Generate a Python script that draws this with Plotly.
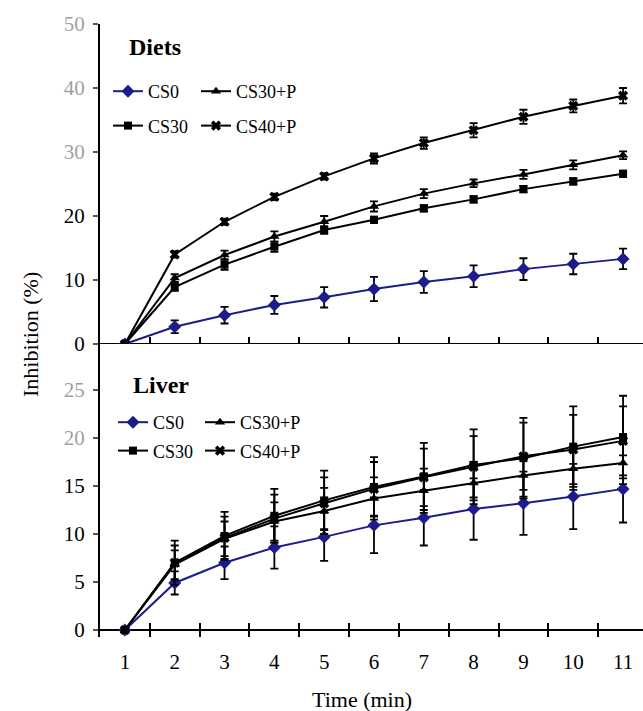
import plotly.graph_objects as go

# ---------------- data ----------------
minutes = [1, 2, 3, 4, 5, 6, 7, 8, 9, 10, 11]
tick_labels = ["1", "2", "3", "4", "5", "6", "7", "8", "9", "10", "11"]
series_names = ["CS0", "CS30", "CS30+P", "CS40+P"]

diets_cs0 = [0, 2.7, 4.5, 6.1, 7.3, 8.6, 9.7, 10.6, 11.7, 12.5, 13.3]
diets_cs0_err = [0, 1.0, 1.3, 1.4, 1.6, 1.9, 1.7, 1.7, 1.7, 1.6, 1.6]
diets_cs30 = [0, 8.9, 12.4, 15.2, 17.8, 19.4, 21.2, 22.6, 24.2, 25.4, 26.6]
diets_cs30_err = [0, 0.6, 0.8, 0.8, 0.6, 0.5, 0.5, 0.5, 0.5, 0.5, 0.5]
diets_cs30p = [0, 10.3, 13.9, 16.8, 19.1, 21.5, 23.5, 25.1, 26.5, 28.0, 29.5]
diets_cs30p_err = [0, 0.6, 0.7, 0.8, 0.9, 0.8, 0.7, 0.6, 0.7, 0.7, 0.6]
diets_cs40p = [0, 14.0, 19.1, 23.0, 26.2, 29.0, 31.4, 33.4, 35.5, 37.2, 38.8]
diets_cs40p_err = [0, 0.5, 0.5, 0.5, 0.5, 0.8, 0.9, 1.1, 1.1, 1.0, 1.2]

liver_cs0 = [0, 4.9, 7.0, 8.6, 9.7, 10.9, 11.7, 12.6, 13.2, 13.9, 14.7]
liver_cs0_err = [0, 1.2, 1.7, 2.2, 2.5, 2.9, 2.9, 3.2, 3.3, 3.4, 3.5]
liver_cs30 = [0, 7.0, 9.8, 11.9, 13.5, 14.9, 16.0, 17.2, 17.9, 19.1, 20.1]
liver_cs30_err = [0, 2.3, 2.5, 2.8, 3.1, 3.1, 3.5, 3.7, 4.2, 4.2, 4.3]
liver_cs30p = [0, 6.8, 9.5, 11.3, 12.4, 13.7, 14.5, 15.3, 16.1, 16.8, 17.4]
liver_cs30p_err = [0, 1.5, 1.8, 2.0, 2.4, 2.2, 2.3, 2.2, 2.2, 2.2, 2.2]
liver_cs40p = [0, 7.0, 9.6, 11.6, 13.2, 14.7, 15.9, 17.0, 18.1, 18.8, 19.7]
liver_cs40p_err = [0, 1.8, 2.2, 2.5, 2.7, 2.8, 3.0, 3.2, 3.5, 3.6, 3.6]

diets_ticks = [0, 10, 20, 30, 40, 50]
liver_ticks = [0, 5, 10, 15, 20, 25]
faded_diets = [30, 40, 50]
faded_liver = [20, 25]
half_ticks = [1.5, 2.5, 3.5, 4.5, 5.5, 6.5, 7.5, 8.5, 9.5, 10.5]

diets_vals = [diets_cs0, diets_cs30, diets_cs30p, diets_cs40p]
diets_errs = [diets_cs0_err, diets_cs30_err, diets_cs30p_err, diets_cs40p_err]
liver_vals = [liver_cs0, liver_cs30, liver_cs30p, liver_cs40p]
liver_errs = [liver_cs0_err, liver_cs30_err, liver_cs30p_err, liver_cs40p_err]

# ---------------- style ----------------
FONT = "Liberation Serif, Times New Roman, serif"
NAVY = "#1c1c8a"
styles = {
    "CS0": dict(color=NAVY, symbol="diamond", size=10),
    "CS30": dict(color="black", symbol="square", size=8),
    "CS30+P": dict(color="black", symbol="triangle-up", size=9),
    "CS40+P": dict(color="black", symbol="x", size=9),
}
W, H = 643, 711
L, R, T, B = 100, 0, 24, 74
PW, PH = W - L - R, H - T - B


def px_x(px):
    return (px - L) / PW


def px_y(py):
    return (H - B - py) / PH


fig = go.Figure()

legend_map_top = {"CS0": "legend", "CS30": "legend", "CS30+P": "legend2", "CS40+P": "legend2"}
legend_map_bot = {"CS0": "legend3", "CS30": "legend3", "CS30+P": "legend4", "CS40+P": "legend4"}

for name, vals, errs in zip(series_names, diets_vals, diets_errs):
    st = styles[name]
    fig.add_trace(go.Scatter(
        x=minutes, y=vals, name=name, mode="lines+markers",
        xaxis="x", yaxis="y",
        line=dict(color=st["color"], width=2),
        marker=dict(color=st["color"], symbol=st["symbol"], size=st["size"]),
        error_y=dict(type="data", array=errs, color="black", thickness=1.8, width=4),
        legend=legend_map_top[name], legendgroup="d_" + name,
    ))

for name, vals, errs in zip(series_names, liver_vals, liver_errs):
    st = styles[name]
    fig.add_trace(go.Scatter(
        x=minutes, y=vals, name=name, mode="lines+markers",
        xaxis="x2", yaxis="y2",
        line=dict(color=st["color"], width=2),
        marker=dict(color=st["color"], symbol=st["symbol"], size=st["size"]),
        error_y=dict(type="data", array=errs, color="black", thickness=1.8, width=4),
        legend=legend_map_bot[name], legendgroup="l_" + name,
    ))


def tick_text(vals, faded):
    out = []
    for v in vals:
        if v in faded:
            out.append('<span style="color:#a0a0a0">%d</span>' % v)
        else:
            out.append(str(v))
    return out


tick_font = dict(family=FONT, size=21, color="black")

fig.update_layout(
    width=W, height=H,
    margin=dict(l=L, r=R, t=T, b=B),
    paper_bgcolor="white", plot_bgcolor="white",
    font=dict(family=FONT, color="black"),
    xaxis=dict(
        anchor="y", domain=[0, 1], range=[0.5, 11.4],
        showline=False, showgrid=False, zeroline=False,
        tickmode="array", tickvals=half_ticks, showticklabels=False,
        ticks="inside", ticklen=14, tickwidth=2, tickcolor="black",
    ),
    xaxis2=dict(
        anchor="y2", domain=[0, 1], range=[0.5, 11.4],
        showline=False, showgrid=False, zeroline=False,
        tickmode="array", tickvals=minutes, ticktext=tick_labels,
        ticks="", tickfont=tick_font, ticklabelstandoff=10,
        minor=dict(tickmode="array", tickvals=half_ticks, ticks="inside",
                   ticklen=14, tickwidth=2, tickcolor="black", showgrid=False),
    ),
    yaxis=dict(
        anchor="x", domain=[px_y(351), 1], range=[-7 / 6.4, 50],
        showline=True, linewidth=2, linecolor="black",
        showgrid=False, zeroline=True, zerolinewidth=2, zerolinecolor="black",
        tickmode="array", tickvals=diets_ticks, ticktext=tick_text(diets_ticks, faded_diets),
        ticks="outside", ticklen=5, tickwidth=1.5, tickcolor="#555",
        tickfont=tick_font, ticklabelstandoff=4,
    ),
    yaxis2=dict(
        anchor="x2", domain=[0, px_y(344)], range=[-7 / 9.6, 286 / 9.6],
        showline=True, linewidth=2, linecolor="black",
        showgrid=False, zeroline=True, zerolinewidth=2, zerolinecolor="black",
        tickmode="array", tickvals=liver_ticks, ticktext=tick_text(liver_ticks, faded_liver),
        ticks="outside", ticklen=5, tickwidth=1.5, tickcolor="#555",
        tickfont=tick_font, ticklabelstandoff=4,
    ),
)

leg_common = dict(
    font=dict(family=FONT, size=18, color="black"),
    bgcolor="rgba(0,0,0,0)", xanchor="left", yanchor="top",
    orientation="v", traceorder="grouped", itemwidth=30,
)
fig.update_layout(
    legend=dict(x=px_x(108), y=px_y(73), tracegroupgap=8, **leg_common),
    legend2=dict(x=px_x(196), y=px_y(73), tracegroupgap=8, **leg_common),
    legend3=dict(x=px_x(113), y=px_y(404), tracegroupgap=2, **leg_common),
    legend4=dict(x=px_x(200), y=px_y(404), tracegroupgap=2, **leg_common),
)

fig.add_annotation(text="<b>Diets</b>", xref="paper", yref="paper",
                   x=px_x(127), y=px_y(47), xanchor="left", yanchor="middle",
                   showarrow=False, font=dict(family=FONT, size=24, color="black"))
fig.add_annotation(text="<b>Liver</b>", xref="paper", yref="paper",
                   x=px_x(131), y=px_y(385), xanchor="left", yanchor="middle",
                   showarrow=False, font=dict(family=FONT, size=24, color="black"))
fig.add_annotation(text="Inhibition (%)", xref="paper", yref="paper",
                   x=px_x(30), y=px_y(335), xanchor="center", yanchor="middle",
                   textangle=-90, showarrow=False,
                   font=dict(family=FONT, size=22, color="black"))
fig.add_annotation(text="Time (min)", xref="paper", yref="paper",
                   x=px_x(362), y=px_y(699), xanchor="center", yanchor="middle",
                   showarrow=False, font=dict(family=FONT, size=22, color="black"))

fig.write_html("out.html", config={"displayModeBar": False},
               post_script="document.body.style.margin='0';")
